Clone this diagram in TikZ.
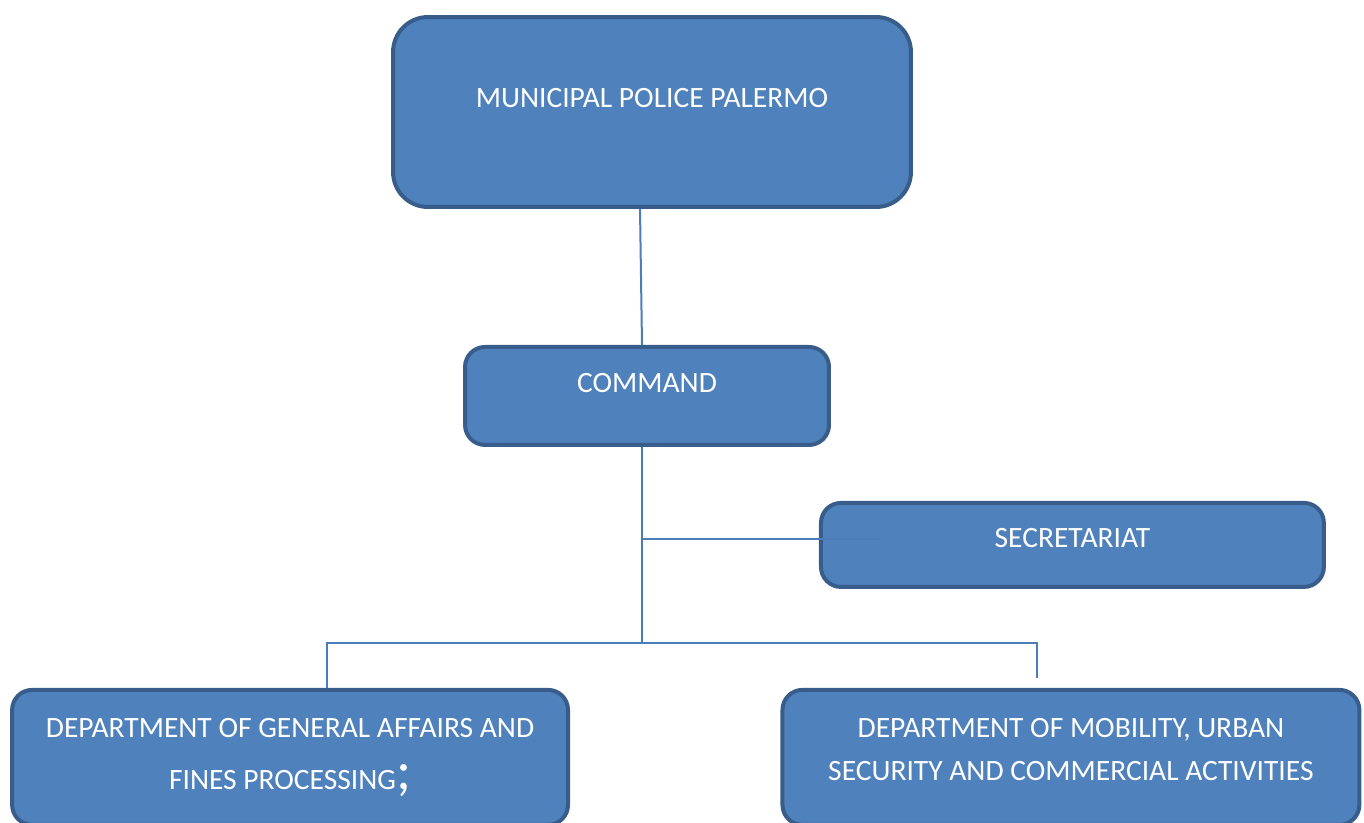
\documentclass[tikz,border=0pt]{standalone}
\usepackage{fontspec}
\setmainfont{Carlito}
\usepackage{tikz}
\usetikzlibrary{positioning}
\definecolor{UnitFill}{HTML}{4F81BD}
\definecolor{UnitEdge}{HTML}{385D8A}
\definecolor{Link}{HTML}{4A7EBB}
\tikzset{
  unit/.style={rectangle, rounded corners=0.4cm, draw=UnitEdge, line width=0.08cm,
    fill=UnitFill, text=white, align=center,
    font=\fontsize{16.8}{24}\selectfont},
  link/.style={draw=Link, line width=0.04cm}
}

\begin{document}
\begin{tikzpicture}[x=0.02cm, y=-0.02cm]
  \useasboundingbox (0,0) rectangle (1364,822);
  \node[unit, rounded corners=0.7cm, minimum width=10.36cm, minimum height=3.8cm,
    text depth=0.56cm] (police) at (652,112) {MUNICIPAL POLICE PALERMO};
  \node[unit, minimum width=7.28cm, minimum height=1.96cm, text depth=0.52cm,
    below=2.72cm of police, xshift=-0.1cm] (command) {COMMAND};
  \node[unit, minimum width=10.06cm, minimum height=1.68cm, text depth=0.3cm,
    below right=1.08cm and -0.24cm of command] (secretariat) {SECRETARIAT};
  \node[unit, minimum width=11.12cm, minimum height=2.7cm,
    below=4.82cm of command, xshift=-7.14cm] (general)
    {DEPARTMENT OF GENERAL AFFAIRS AND\\[0.2cm] FINES PROCESSING{\fontsize{32}{32}\selectfont;}};
  \node[unit, minimum width=11.54cm, minimum height=2.7cm, text depth=0.32cm,
    below=4.82cm of command, xshift=8.48cm] (mobility)
    {DEPARTMENT OF MOBILITY, URBAN\\SECURITY AND COMMERCIAL ACTIVITIES};
  \coordinate[below=3.92cm of command.south, xshift=-0.1cm] (fork);
  \coordinate (secjoin) at ([yshift=0.12cm]secretariat.west);
  \draw[link] ([xshift=-0.24cm]police.south) -- ([xshift=-0.1cm]command.north);
  \draw[link] ([xshift=-0.1cm]command.south) -- (fork);
  \draw[link] (fork |- secjoin) -- ([xshift=1.2cm]secjoin);
  \draw[link] ([xshift=0.74cm]general.north) |- (fork) -| ([xshift=-0.68cm, yshift=0.2cm]mobility.north);
\end{tikzpicture}
\end{document}
